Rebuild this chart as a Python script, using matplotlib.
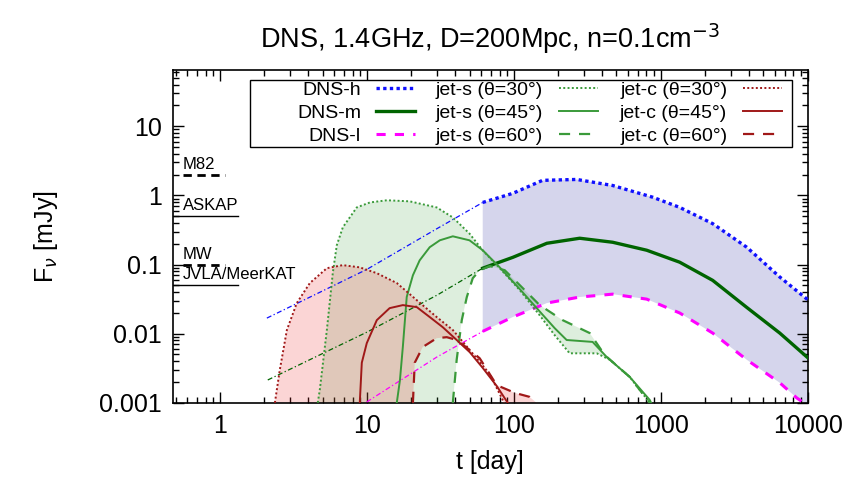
import numpy as np
import matplotlib
matplotlib.use("Agg")
import matplotlib.pyplot as plt
from matplotlib.legend import Legend
from matplotlib.patches import Rectangle
from matplotlib.ticker import FixedLocator, FixedFormatter, LogLocator, NullFormatter

plt.rcParams['font.family'] = ['Liberation Sans', 'DejaVu Sans']

# ---- data (t in days, F in mJy) ----
T_CUT = 61.5  # the DNS curves switch from thin to thick here

# DNS models
t_h = [2.09, 10.0, 30.0, 61.5, 98.5, 157, 268, 471, 883, 1347, 2258, 3847, 6457, 10000]
f_h = [0.0168, 0.085, 0.33, 0.79, 1.07, 1.65, 1.70, 1.39, 0.94, 0.67, 0.39, 0.178, 0.066, 0.031]
t_m = [2.12, 10.0, 30.0, 61.5, 98.5, 168, 281, 471, 803, 1347, 2258, 3847, 6457, 10000]
f_m = [0.00214, 0.0105, 0.036, 0.0885, 0.127, 0.203, 0.24, 0.21, 0.161, 0.108, 0.059, 0.024, 0.0102, 0.0045]
t_l = [10.0, 30.0, 58.7, 61.5, 98.5, 168, 281, 471, 803, 1347, 2258, 3847, 6457, 8415, 9400]
f_l = [0.00103, 0.0046, 0.0102, 0.0108, 0.0174, 0.0277, 0.0339, 0.0373, 0.0316, 0.0199, 0.0102, 0.0042, 0.00195, 0.00118, 0.001]

# jets seen sideways (jet-s)
t_s30 = [4.64, 4.79, 5.35, 5.87, 6.25, 6.87, 8.55, 10.5, 13.7, 19.6, 29.9, 38.5, 50, 61.5,
         80.3, 110, 150, 190, 240, 367, 450, 615, 842]
f_s30 = [0.001, 0.00154, 0.0113, 0.075, 0.19, 0.345, 0.67, 0.79, 0.85, 0.82, 0.67, 0.48, 0.28, 0.16,
         0.0885, 0.0426, 0.0185, 0.0095, 0.0052, 0.0052, 0.0042, 0.00237, 0.001]
t_s45 = [16, 16.8, 17.6, 18.7, 20.6, 22.9, 26.8, 31.4, 38.5, 50, 61.5, 80.3, 110, 150, 190, 229,
         344, 429, 615, 842, 860]
f_s45 = [0.001, 0.0021, 0.0065, 0.034, 0.070, 0.115, 0.178, 0.224, 0.256, 0.224, 0.161, 0.091,
         0.044, 0.021, 0.012, 0.0081, 0.0076, 0.0046, 0.00237, 0.0011, 0.001]
t_s60 = [38.5, 40.9, 44.3, 47.9, 52.6, 58.7, 68.7, 86.8, 110, 150, 215, 329, 416, 615, 842]
f_s60 = [0.001, 0.0042, 0.0157, 0.0337, 0.0634, 0.0828, 0.095, 0.0828, 0.0502, 0.0259, 0.0157,
         0.0102, 0.0049, 0.00237, 0.001]

# jets seen off-axis with cocoon (jet-c)
t_c30 = [2.37, 2.56, 2.86, 3.34, 4.10, 5.35, 6.87, 8.96, 11.7, 16.0, 21.9, 29.9, 38.5, 50.2, 68.7, 86.0]
f_c30 = [0.001, 0.003, 0.0113, 0.0277, 0.054, 0.0885, 0.098, 0.091, 0.075, 0.054, 0.0305, 0.0174,
         0.0113, 0.0058, 0.0026, 0.001]
t_c45 = [8.96, 9.25, 10.0, 11.7, 14.3, 17.6, 21.9, 26.8, 32.9, 40.9, 50.2, 61.5, 76.6, 91.0]
f_c45 = [0.001, 0.0038, 0.0073, 0.0157, 0.0234, 0.0259, 0.0242, 0.0174, 0.0124, 0.0081, 0.0054,
         0.0032, 0.00175, 0.001]
t_c60 = [20.6, 21.2, 24.0, 29.9, 35.0, 40.9, 50.2, 58.7, 76.6, 102, 128, 143]
f_c60 = [0.001, 0.0038, 0.0064, 0.0086, 0.0089, 0.0081, 0.0058, 0.0044, 0.0018, 0.00139, 0.00122, 0.001]

# detector sensitivities
sens_names = ['M82', 'ASKAP', 'MW', 'JVLA/MeerKAT']
sens_flux = [2.0, 0.5, 0.1, 0.05]
sens_dashed = [True, False, True, False]

xticks = [1, 10, 100, 1000, 10000]
xticklabels = ['1', '10', '100', '1000', '10000']
yticks = [0.001, 0.01, 0.1, 1, 10]
yticklabels = ['0.001', '0.01', '0.1', '1', '10']

# ---- figure ----
fig = plt.figure(figsize=(8.52, 4.83), dpi=100)
ax = fig.add_axes([0.203, 0.166, 0.745, 0.689])
ax.set_xscale('log')
ax.set_yscale('log')
ax.set_xlim(0.48, 10000)
ax.set_ylim(0.001, 65)

c_blue = '#1010ff'
c_mag = '#ff00ff'
c_dgreen = '#006400'
c_green = '#3a9a3a'
c_red = '#a01818'


def poly(ta, fa, tb, fb):
    # closed outline: curve a forward, curve b backward
    return (np.concatenate([ta, tb[::-1]]), np.concatenate([fa, fb[::-1]]))


# shaded bands
th, fh = np.array(t_h), np.array(f_h)
tl, fl = np.array(t_l), np.array(f_l)
mh = th >= T_CUT
ml = tl >= T_CUT
px, py = poly(np.append(th[mh], th[mh][-1]), np.append(fh[mh], 1e-4), tl[ml], fl[ml])
ax.fill(px, py, color='#c8c8e6', alpha=0.75, lw=0, zorder=1)

px, py = poly(np.array(t_s30), np.array(f_s30), np.array(t_s60), np.array(f_s60))
ax.fill(px, py, color='#2e9a2e', alpha=0.16, lw=0, zorder=2)
px, py = poly(np.array(t_c30), np.array(f_c30), np.array(t_c60), np.array(f_c60))
ax.fill(px, py, color='#ee3030', alpha=0.2, lw=0, zorder=2)

# DNS curves: thin before T_CUT, thick after
thin = (0, (4, 2, 1, 2))
h_dns = []
for t, f, col, ls, lw, lab in [(t_h, f_h, c_blue, (0, (1, 1)), 2.4, 'DNS-h'),
                               (t_m, f_m, c_dgreen, '-', 2.4, 'DNS-m'),
                               (t_l, f_l, c_mag, (0, (3, 3)), 2.2, 'DNS-l')]:
    t, f = np.array(t), np.array(f)
    a = t <= T_CUT
    ax.plot(t[a], f[a], color=col, lw=0.9, ls=thin, zorder=4)
    b = t >= T_CUT
    h_dns += ax.plot(t[b], f[b], color=col, lw=lw, ls=ls, label=lab, zorder=5)

h_s = []
h_s += ax.plot(t_s30, f_s30, color=c_green, lw=1.4, ls=(0, (1, 1.2)), label='jet-s (θ=30°)', zorder=6)
h_s += ax.plot(t_s45, f_s45, color=c_green, lw=1.4, ls='-', label='jet-s (θ=45°)', zorder=6)
h_s += ax.plot(t_s60, f_s60, color=c_green, lw=1.6, ls=(0, (5, 4)), label='jet-s (θ=60°)', zorder=6)
h_c = []
h_c += ax.plot(t_c30, f_c30, color=c_red, lw=1.4, ls=(0, (1, 1.2)), label='jet-c (θ=30°)', zorder=6)
h_c += ax.plot(t_c45, f_c45, color=c_red, lw=1.4, ls='-', label='jet-c (θ=45°)', zorder=6)
h_c += ax.plot(t_c60, f_c60, color=c_red, lw=1.6, ls=(0, (5, 4)), label='jet-c (θ=60°)', zorder=6)

# sensitivity limits
for name, fl_, dashed in zip(sens_names, sens_flux, sens_dashed):
    if dashed:
        ax.plot([0.56, 1.08], [fl_, fl_], color='black', lw=2.0, ls=(0, (3, 2)), zorder=7)
    else:
        ax.plot([0.48, 1.33], [fl_, fl_], color='black', lw=1.0, zorder=7)
    ax.text(0.56, fl_ * 1.1, name, fontsize=12, ha='left', va='bottom', zorder=7)

# axes cosmetics
ax.xaxis.set_major_locator(FixedLocator(xticks))
ax.xaxis.set_major_formatter(FixedFormatter(xticklabels))
ax.yaxis.set_major_locator(FixedLocator(yticks))
ax.yaxis.set_major_formatter(FixedFormatter(yticklabels))
ax.xaxis.set_minor_locator(LogLocator(base=10, subs=np.arange(2, 10)))
ax.yaxis.set_minor_locator(LogLocator(base=10, subs=np.arange(2, 10)))
ax.xaxis.set_minor_formatter(NullFormatter())
ax.yaxis.set_minor_formatter(NullFormatter())
ax.tick_params(which='both', direction='in', top=True, right=True, labelsize=18, width=1.0)
ax.tick_params(which='major', length=8, pad=8)
ax.tick_params(which='minor', length=4)
for s in ax.spines.values():
    s.set_linewidth(1.2)

ax.set_xlabel('t [day]', fontsize=18, labelpad=9)
ax.set_ylabel(r'F$_\nu$ [mJy]', fontsize=18, labelpad=28)
ax.set_title(r'DNS, 1.4GHz, D=200Mpc, n=0.1cm$^{-3}$', fontsize=19.5, pad=16)

# legend: three frameless columns inside one box, text before the sample
ax.add_patch(Rectangle((0.121, 0.769), 0.855, 0.201, transform=ax.transAxes,
                       facecolor='white', edgecolor='black', lw=1.0, zorder=9))
for handles, xr in [(h_dns, 0.385), (h_s, 0.672), (h_c, 0.962)]:
    leg = Legend(ax, handles, [h.get_label() for h in handles], loc='upper right',
                 bbox_to_anchor=(xr, 0.972), markerfirst=False, fontsize=14,
                 handlelength=2.0, frameon=False, borderpad=0.1, labelspacing=0.28,
                 handletextpad=0.8, borderaxespad=0)
    leg.set_zorder(10)
    ax.add_artist(leg)

fig.savefig('out.png', dpi=100)
